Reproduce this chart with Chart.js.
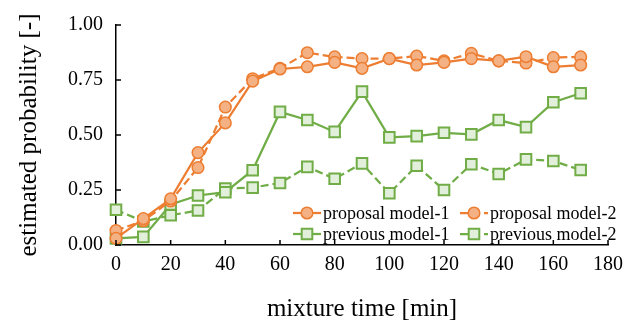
<!DOCTYPE html>
<html>
<head>
<meta charset="utf-8">
<script src="https://cdn.jsdelivr.net/npm/chart.js@4/dist/chart.umd.min.js"></script>
<style>
  html, body { margin: 0; padding: 0; background: #fff; }
  #wrap { width: 639px; height: 330px; position: relative; }
</style>
</head>
<body>
<div id="wrap"><canvas id="chart"></canvas></div>
<script>
// mixture time [min]
const minutes = [0, 10, 20, 30, 40, 50, 60, 70, 80, 90, 100, 110, 120, 130, 140, 150, 160, 170];

// estimated probability per model
const proposal1 = [0.03, 0.12, 0.21, 0.42, 0.555, 0.745, 0.80, 0.81, 0.83, 0.803, 0.847, 0.818, 0.83, 0.847, 0.837, 0.856, 0.81, 0.818];
const proposal2 = [0.066, 0.11, 0.20, 0.352, 0.627, 0.756, 0.803, 0.874, 0.855, 0.847, 0.847, 0.859, 0.837, 0.871, 0.837, 0.827, 0.852, 0.855];
const previous1 = [0.03, 0.037, 0.184, 0.225, 0.24, 0.34, 0.605, 0.568, 0.514, 0.697, 0.489, 0.495, 0.51, 0.503, 0.568, 0.536, 0.649, 0.69];
const previous2 = [0.16, 0.107, 0.135, 0.157, 0.257, 0.261, 0.282, 0.355, 0.301, 0.371, 0.235, 0.36, 0.25, 0.367, 0.323, 0.389, 0.382, 0.341];

const seriesNames = ["proposal model-1", "proposal model-2", "previous model-1", "previous model-2"];
const xTicks = [0, 20, 40, 60, 80, 100, 120, 140, 160, 180];
const yTicks = [0, 0.25, 0.5, 0.75, 1];

const serif = "'Liberation Serif', 'Times New Roman', serif";
const orange = "#ED7D31", orangeFill = "#F4B183";
const green = "#70AD47", greenFill = "#E2EFDA";

function pts(vals) {
  return minutes.map((m, i) => ({x: m, y: vals[i]}));
}

function orangeSet(label, vals, dash) {
  return {
    label: label, data: pts(vals),
    borderColor: orange, backgroundColor: orangeFill,
    borderWidth: 2.25, borderDash: dash,
    pointStyle: "circle", pointRadius: 5.8, pointBorderWidth: 1.5,
    pointBorderColor: orange, pointBackgroundColor: orangeFill,
    tension: 0, clip: false
  };
}
function greenSet(label, vals, dash) {
  return {
    label: label, data: pts(vals),
    borderColor: green, backgroundColor: greenFill,
    borderWidth: 2.25, borderDash: dash,
    pointStyle: "rect", pointRadius: 7.5, pointBorderWidth: 2,
    pointBorderColor: green, pointBackgroundColor: greenFill,
    tension: 0, clip: false
  };
}

// legend drawn inside the plot, two columns
const insideLegend = {
  id: "insideLegend",
  afterDatasetsDraw(chart) {
    const ctx = chart.ctx;
    const cols = [293, 460];
    const rows = [213, 234];
    const sets = chart.data.datasets;
    ctx.save();
    sets.forEach((ds, i) => {
      const x0 = cols[i % 2];
      const y = rows[Math.floor(i / 2)];
      ctx.strokeStyle = ds.borderColor;
      ctx.lineWidth = 2.25;
      ctx.setLineDash(ds.borderDash || []);
      ctx.beginPath();
      ctx.moveTo(x0, y);
      ctx.lineTo(x0 + 28, y);
      ctx.stroke();
      ctx.setLineDash([]);
      ctx.fillStyle = ds.pointBackgroundColor;
      ctx.strokeStyle = ds.pointBorderColor;
      ctx.lineWidth = ds.pointBorderWidth;
      Chart.helpers.drawPoint(ctx, {pointStyle: ds.pointStyle, radius: ds.pointRadius, borderWidth: ds.pointBorderWidth}, x0 + 14, y);
      ctx.fillStyle = "#000";
      ctx.font = "18px " + serif;
      ctx.textBaseline = "middle";
      ctx.textAlign = "left";
      ctx.fillText(ds.label, x0 + 30, y + 1);
    });
    ctx.restore();
  }
};

// tick marks pointing into the plot
const insideTicks = {
  id: "insideTicks",
  afterDraw(chart) {
    const ctx = chart.ctx;
    const xs = chart.scales.x, ys = chart.scales.y;
    ctx.save();
    ctx.strokeStyle = "#000";
    ctx.lineWidth = 1.5;
    ctx.beginPath();
    xTicks.forEach(v => {
      const px = xs.getPixelForValue(v);
      ctx.moveTo(px, xs.top);
      ctx.lineTo(px, xs.top - 5);
    });
    yTicks.forEach(v => {
      const py = ys.getPixelForValue(v);
      ctx.moveTo(ys.right, py);
      ctx.lineTo(ys.right + 5, py);
    });
    ctx.stroke();
    ctx.restore();
  }
};

new Chart("chart", {
  type: "line",
  data: {
    datasets: [
      orangeSet(seriesNames[0], proposal1, []),
      orangeSet(seriesNames[1], proposal2, [8, 4]),
      greenSet(seriesNames[2], previous1, []),
      greenSet(seriesNames[3], previous2, [8, 4])
    ]
  },
  options: {
    responsive: true,
    maintainAspectRatio: false,
    animation: false,
    layout: {padding: {left: 10, right: 31, top: 18, bottom: 0}},
    plugins: {legend: {display: false}, tooltip: {enabled: false}},
    scales: {
      x: {
        type: "linear", min: 0, max: 180,
        afterBuildTicks: (s) => { s.ticks = xTicks.map(v => ({value: v})); },
        afterFit: (s) => { s.height = 85; },
        grid: {display: false, drawTicks: false},
        border: {display: true, color: "#000", width: 1.5},
        ticks: {color: "#000", font: {family: serif, size: 20}, padding: 8, maxRotation: 0},
        title: {display: true, text: "mixture time [min]", color: "#000", font: {family: serif, size: 25}, padding: {top: 10, bottom: 6}}
      },
      y: {
        min: 0, max: 1,
        afterBuildTicks: (s) => { s.ticks = yTicks.map(v => ({value: v})); },
        afterFit: (s) => { s.width = 106; },
        grid: {display: false, drawTicks: false},
        border: {display: true, color: "#000", width: 1.5},
        ticks: {color: "#000", font: {family: serif, size: 20}, padding: 13, callback: (v) => v.toFixed(2)},
        title: {display: true, text: "estimated probability [-]", color: "#000", font: {family: serif, size: 25}, padding: {top: 4, bottom: 6}}
      }
    }
  },
  plugins: [insideLegend, insideTicks]
});
</script>
</body>
</html>
